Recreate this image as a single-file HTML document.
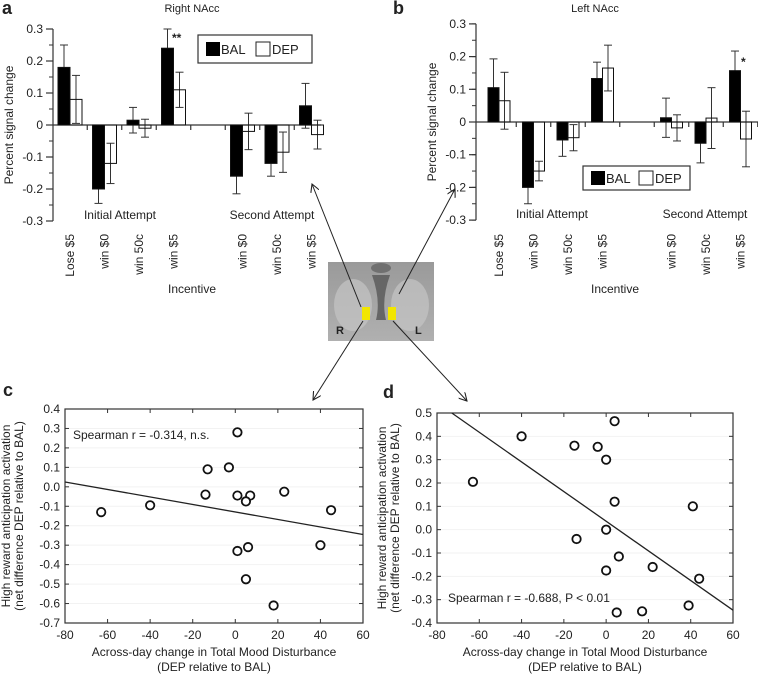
<!DOCTYPE html>
<html><head><meta charset="utf-8"><style>
html,body{margin:0;padding:0;background:#fff;}
svg{display:block;font-family:"Liberation Sans",sans-serif;}
text{fill:#222;}
</style></head><body>
<svg id="fig" width="758" height="678" viewBox="0 0 758 678" xmlns="http://www.w3.org/2000/svg">
<defs>
<marker id="ah" viewBox="0 0 10 10" refX="9" refY="5" markerWidth="9" markerHeight="9" orient="auto"><path d="M0,0 L9,5 L0,10" fill="none" stroke="#222" stroke-width="1.2"/></marker>
<linearGradient id="br" x1="0" y1="0" x2="0" y2="1"><stop offset="0" stop-color="#9a9a9a"/><stop offset="1" stop-color="#b0b0b0"/></linearGradient>
</defs>
<g id="layer"></g>
<g>
<rect x="328" y="262" width="106" height="79" fill="url(#br)"/>
<ellipse cx="353" cy="305" rx="19" ry="26" fill="#c4c4c4" opacity="0.7"/>
<ellipse cx="410" cy="305" rx="19" ry="26" fill="#c4c4c4" opacity="0.7"/>
<path d="M372,275 Q381,300 376,320 L386,320 Q381,300 390,275 Z" fill="#666"/>
<ellipse cx="381" cy="268" rx="10" ry="5" fill="#707070"/>
<rect x="362" y="307" width="8" height="13" fill="#f2e600"/>
<rect x="388" y="307" width="8" height="13" fill="#f2e600"/>
<text x="336" y="334" font-size="11" font-weight="bold">R</text>
<text x="415" y="334" font-size="11" font-weight="bold">L</text>
</g>
<line x1="361" y1="307" x2="312" y2="184" stroke="#222" marker-end="url(#ah)"/>
<line x1="399" y1="294" x2="455" y2="189" stroke="#222" marker-end="url(#ah)"/>
<line x1="363" y1="321" x2="313" y2="400" stroke="#222" marker-end="url(#ah)"/>
<line x1="393" y1="321" x2="467" y2="401" stroke="#222" marker-end="url(#ah)"/>
</svg>
<script>
const categories=["Lose $5","win $0","win 50c","win $5","win $0","win 50c","win $5"];
const slots=[0,1,2,3,5,6,7];
const aBAL=[0.18,-0.20,0.015,0.24,-0.16,-0.12,0.06];
const aBALerr=[0.07,0.045,0.04,0.06,0.055,0.04,0.07];
const aDEP=[0.08,-0.12,-0.01,0.11,-0.02,-0.085,-0.03];
const aDEPerr=[0.075,0.063,0.028,0.055,0.057,0.063,0.045];
const bBAL=[0.105,-0.20,-0.055,0.133,0.013,-0.065,0.157];
const bBALerr=[0.088,0.05,0.05,0.05,0.06,0.06,0.06];
const bDEP=[0.065,-0.15,-0.048,0.165,-0.018,0.012,-0.052];
const bDEPerr=[0.087,0.03,0.04,0.07,0.04,0.093,0.085];
const barTicks=[-0.3,-0.2,-0.1,0,0.1,0.2,0.3];
const barTickLabels=["-0.3","-0.2","-0.1","0","0.1","0.2","0.3"];
const cX=[-63,-40,-13,-3,1,-14,1,7,5,23,45,40,1,6,5,18];
const cY=[-0.13,-0.095,0.09,0.1,0.28,-0.04,-0.045,-0.045,-0.075,-0.025,-0.12,-0.3,-0.33,-0.31,-0.475,-0.61];
const cFit=[[-80,0.025],[60,-0.245]];
const dX=[-63,-40,-15,-4,4,0,4,0,-14,6,0,22,44,41,39,5,17];
const dY=[0.205,0.4,0.36,0.355,0.465,0.3,0.12,0.0,-0.04,-0.115,-0.175,-0.16,-0.21,0.1,-0.325,-0.355,-0.35];
const dFit=[[-73,0.5],[60,-0.345]];
const xTicks=[-80,-60,-40,-20,0,20,40,60];
const cYTicks=[0.4,0.3,0.2,0.1,0.0,-0.1,-0.2,-0.3,-0.4,-0.5,-0.6,-0.7];
const dYTicks=[0.5,0.4,0.3,0.2,0.1,0.0,-0.1,-0.2,-0.3,-0.4];

const NS="http://www.w3.org/2000/svg";
const root=document.getElementById('layer');
function mk(tag,attrs,parent,txt){const e=document.createElementNS(NS,tag);for(const k in attrs)e.setAttribute(k,attrs[k]);if(txt!==undefined)e.textContent=txt;(parent||root).appendChild(e);return e;}

function barPanel(o){
  const g=mk('g',{});
  
  
  const y=v=>o.y0-v*o.k;
  const x=i=>o.cx0+o.dx*i;
  const ax=mk('line',{x1:o.ax,y1:y(0.3),x2:o.ax,y2:y(-0.3),stroke:'#333','stroke-width':1.2},g);
  
  
  for(let v=-0.3;v<=0.3001;v+=0.05){mk('line',{x1:o.ax-4,x2:o.ax,y1:y(v),y2:y(v),stroke:'#333'},g);}
  barTicks.forEach((v,i)=>{
    mk('line',{x1:o.ax-7,x2:o.ax,y1:y(v),y2:y(v),stroke:'#333','stroke-width':1.2},g);
    const t=mk('text',{x:o.ax-10,y:y(v)+4,'font-size':12,'text-anchor':'end'},g,barTickLabels[i]);
    
    
  });
  const zl=mk('line',{x1:o.ax,x2:o.axEnd,y1:y(0),y2:y(0),stroke:'#333','stroke-width':1.2},g);
  
  
  for(let i=0;i<8;i++){const tx=x(i)+o.dx/2;if(tx<o.axEnd)mk('line',{x1:tx,x2:tx,y1:y(0),y2:y(0)+5,stroke:'#333','stroke-width':1.2},g);}
  const w=o.bw;
  function drawBar(val,err,slot,isBal){
    const cx=x(slot);
    const bx=isBal?cx-w:cx;
    const yt=Math.min(y(0),y(val)),h=Math.abs(y(val)-y(0));
    const ex=bx+w/2;
    const e=mk('line',{x1:ex,x2:ex,y1:y(val+err),y2:y(val-err),stroke:'#333'},g);
    
    
    mk('line',{x1:ex-4,x2:ex+4,y1:y(val+err),y2:y(val+err),stroke:'#333'},g);
    mk('line',{x1:ex-4,x2:ex+4,y1:y(val-err),y2:y(val-err),stroke:'#333'},g);
    const r=mk('rect',{x:bx,y:yt,width:w,height:h,fill:isBal?'#000':'none',stroke:'#111','stroke-width':1},g);
    
    
  }
  o.bal.forEach((v,i)=>drawBar(v,o.balErr[i],slots[i],true));
  o.dep.forEach((v,i)=>drawBar(v,o.depErr[i],slots[i],false));
  categories.forEach((c,i)=>{
    const tx=x(slots[i])+4;
    const t=mk('text',{x:0,y:0,'font-size':12,'text-anchor':'end',transform:`translate(${tx},${o.catTop}) rotate(-90)`},g,c);
    
    
  });
  const t1=mk('text',{x:o.ia,y:y(-0.3)-2,'font-size':12,'text-anchor':'middle'},g,'Initial Attempt');
  
  
  const t2=mk('text',{x:o.sa,y:y(-0.3)-2,'font-size':12,'text-anchor':'middle'},g,'Second Attempt');
  
  
  const xt=mk('text',{x:o.inc,y:293,'font-size':12,'text-anchor':'middle'},g,'Incentive');
  
  
  const yt=mk('text',{x:0,y:0,'font-size':12,'text-anchor':'middle',transform:`translate(${o.ylx},${y(0)}) rotate(-90)`},g,'Percent signal change');
  
  
  const tt=mk('text',{x:o.titleX,y:12,'font-size':11,'text-anchor':'middle'},g,o.title);
  
  
  const pl=mk('text',{x:o.letterX,y:14,'font-size':18,'font-weight':'bold'},g,o.letter);
  
  
  const L=o.leg;
  const lg=mk('g',{},g);
  
  
  mk('rect',{x:L[0],y:L[1],width:L[2],height:L[3],fill:'#fff',stroke:'#333','stroke-width':1.2},lg);
  const ly=L[1]+L[3]/2;
  const le1=mk('rect',{x:L[0]+8,y:ly-7,width:14,height:14,fill:'#000'},lg);
  
  
  mk('text',{x:L[0]+23,y:ly+5,'font-size':13},lg,'BAL');
  const le2=mk('rect',{x:L[0]+L[4],y:ly-7,width:14,height:14,fill:'#fff',stroke:'#222'},lg);
  
  
  mk('text',{x:L[0]+L[4]+16,y:ly+5,'font-size':13},lg,'DEP');
  const s=mk('text',{x:o.star[0],y:o.star[1],'font-size':12,'font-weight':'bold'},g,o.star[2]);
  
  
}
barPanel({name:'chart-a-right-nacc',y0:125,k:320,cx0:70,dx:34.5,ax:53,axEnd:321,bw:12,bal:aBAL,balErr:aBALerr,dep:aDEP,depErr:aDEPerr,catTop:234,ia:120,sa:272,inc:192,ylx:13,titleX:192,title:'Right NAcc',letterX:2,letter:'a',leg:[198,35,114,28,58],star:[172,42,'**']});
barPanel({name:'chart-b-left-nacc',y0:122,k:327,cx0:499,dx:34.5,ax:476,axEnd:758,bw:11,bal:bBAL,balErr:bBALerr,dep:bDEP,depErr:bDEPerr,catTop:234,ia:552,sa:705,inc:615,ylx:436,titleX:595,title:'Left NAcc',letterX:393,letter:'b',leg:[583,166,107,24,56],star:[741,66,'*']});

function scatter(o){
  const g=mk('g',{});
  
  
  const X=v=>o.x0+(v+80)/140*(o.x1-o.x0);
  const Y=v=>o.y0+(o.ymax-v)/(o.ymax-o.ymin)*(o.y1-o.y0);
  o.yt.forEach(v=>{
    if(v>o.ymin+1e-9&&v<o.ymax-1e-9)mk('line',{x1:o.x0,x2:o.x1,y1:Y(v),y2:Y(v),stroke:'#f2f2f2'},g);
    mk('line',{x1:o.x0,x2:o.x0+4,y1:Y(v),y2:Y(v),stroke:'#333'},g);
    mk('line',{x1:o.x1-4,x2:o.x1,y1:Y(v),y2:Y(v),stroke:'#333'},g);
    const t=mk('text',{x:o.x0-5,y:Y(v)+4,'font-size':12,'text-anchor':'end'},g,v.toFixed(1));
    
    
  });
  xTicks.forEach(v=>{
    mk('line',{x1:X(v),x2:X(v),y1:o.y1,y2:o.y1-4,stroke:'#333'},g);
    mk('line',{x1:X(v),x2:X(v),y1:o.y0,y2:o.y0+4,stroke:'#333'},g);
    const t=mk('text',{x:X(v),y:o.y1+16,'font-size':12,'text-anchor':'middle'},g,String(v));
    
    
  });
  const fr=mk('rect',{x:o.x0,y:o.y0,width:o.x1-o.x0,height:o.y1-o.y0,fill:'none',stroke:'#333','stroke-width':1.2},g);
  
  
  const fl=mk('line',{x1:X(o.fit[0][0]),y1:Y(o.fit[0][1]),x2:X(o.fit[1][0]),y2:Y(o.fit[1][1]),stroke:'#222','stroke-width':1.3},g);
  
  
  o.xs.forEach((xv,i)=>{
    const c=mk('circle',{cx:X(xv),cy:Y(o.ys[i]),r:4.2,fill:'#fff',stroke:'#111','stroke-width':1.8},g);
    
    
  });
  const st=mk('text',{x:o.stat[0],y:o.stat[1],'font-size':12},g,o.stat[2]);
  
  
  const cx=(o.x0+o.x1)/2;
  const a1=mk('text',{x:cx,y:o.y1+33,'font-size':12,'text-anchor':'middle'},g,'Across-day change in Total Mood Disturbance');
  
  
  mk('text',{x:cx,y:o.y1+48,'font-size':12,'text-anchor':'middle'},g,'(DEP relative to BAL)');
  const cy=(o.y0+o.y1)/2;
  const y1=mk('text',{x:0,y:0,'font-size':12,'text-anchor':'middle',transform:`translate(${o.ylx},${cy}) rotate(-90)`},g,'High reward anticipation activation');
  
  
  mk('text',{x:0,y:0,'font-size':12,'text-anchor':'middle',transform:`translate(${o.ylx+13},${cy}) rotate(-90)`},g,'(net difference DEP relative to BAL)');
  const pl=mk('text',{x:o.letter[0],y:o.letter[1],'font-size':18,'font-weight':'bold'},g,o.letter[2]);
  
  
}
scatter({name:'chart-c-scatter',x0:65,x1:363,y0:409,y1:623,ymax:0.4,ymin:-0.7,yt:cYTicks,xs:cX,ys:cY,fit:cFit,stat:[73,439,'Spearman r = -0.314, n.s.'],ylx:10,letter:[3,396,'c']});
scatter({name:'chart-d-scatter',x0:437,x1:733,y0:413,y1:623,ymax:0.5,ymin:-0.4,yt:dYTicks,xs:dX,ys:dY,fit:dFit,stat:[448,602,'Spearman r = -0.688, P < 0.01'],ylx:386,letter:[383,398,'d']});
</script>
</body></html>
